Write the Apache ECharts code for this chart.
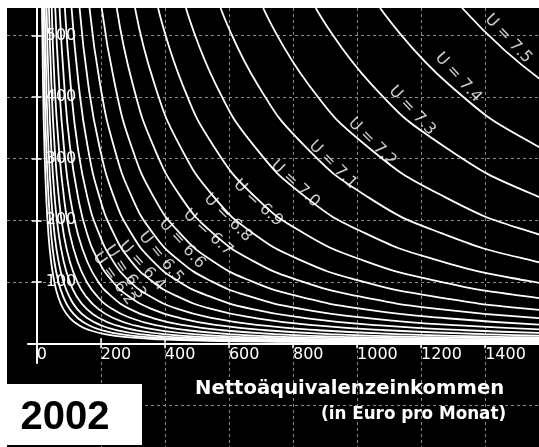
<!DOCTYPE html>
<html>
<head>
<meta charset="utf-8">
<script src="https://cdn.jsdelivr.net/npm/echarts@6/dist/echarts.min.js"></script>
<style>
html, body { margin: 0; padding: 0; background: #fff; }
#chart { position: absolute; left: 7px; top: 8px; width: 532px; height: 439px; background: #000; }
</style>
</head>
<body>
<div id="chart"></div>
<script>
// tick labels
const xTicks = [0, 200, 400, 600, 800, 1000, 1200, 1400];
const yTicks = [100, 200, 300, 400, 500];

// indifference curves: [income, y]
const c75 = [[1328,545],[1461,476],[1594,421]];
const c74 = [[1072,545],[1286,421],[1565,320],[1930,238]];
const c73 = [[871,545],[1045,421],[1272,320],[1568,238],[1916,179]];
const c72 = [[707,545],[848,421],[1032,320],[1273,238],[1555,179],[1909,134]];
const c71 = [[574,545],[689,421],[838,320],[1033,238],[1263,179],[1550,134],[1894,101]];
const c70 = [[466,545],[559,421],[680,320],[839,238],[1025,179],[1258,134],[1538,101],[1864,77]];
const c69 = [[379,545],[455,421],[553,320],[682,238],[834,179],[1023,134],[1251,101],[1516,77],[1895,56]];
const c68 = [[307,545],[368,421],[448,320],[553,238],[675,179],[829,134],[1013,101],[1228,77],[1535,56],[1934,40.7]];
const c67 = [[250,545],[300,421],[365,320],[450,238],[550,179],[675,134],[825,101],[1000,77],[1250,56],[1575,40.7]];
const c66 = [[203,545],[244,421],[296,320],[365,238],[447,179],[548,134],[670,101],[812,77],[1015,56],[1279,40.7],[1624,29]];
const c65 = [[165,545],[198,421],[241,320],[297,238],[363,179],[446,134],[545,101],[660,77],[825,56],[1040,40.7],[1320,29],[1650,21.2]];
const c64 = [[134,545],[161,421],[196,320],[241,238],[295,179],[362,134],[442,101],[536,77],[670,56],[844,40.7],[1072,29],[1340,21.2],[1742,14.6]];
const c63 = [[109,545],[131,421],[159,320],[196,238],[240,179],[294,134],[360,101],[436,77],[545,56],[687,40.7],[872,29],[1090,21.2],[1417,14.6],[1853,10]];
const c62 = [[88,545],[106,421],[128,320],[158,238],[194,179],[238,134],[290,101],[352,77],[440,56],[554,40.7],[704,29],[880,21.2],[1144,14.6],[1496,10],[2024,6.6]];
const c61 = [[71.5,545],[86,421],[104,320],[129,238],[157,179],[193,134],[236,101],[286,77],[358,56],[450,40.7],[572,29],[715,21.2],[930,14.6],[1216,10],[1645,6.6]];
const c60 = [[58,545],[70,421],[85,320],[104,238],[128,179],[157,134],[191,101],[232,77],[290,56],[365,40.7],[464,29],[580,21.2],[754,14.6],[986,10],[1334,6.6],[1856,4.1]];
const c59 = [[47,545],[56,421],[69,320],[85,238],[103,179],[127,134],[155,101],[188,77],[235,56],[296,40.7],[376,29],[470,21.2],[611,14.6],[799,10],[1081,6.6],[1504,4.1],[2115,2.5]];
const c58 = [[38.3,545],[46,421],[56,320],[69,238],[84,179],[103,134],[126,101],[153,77],[192,56],[241,40.7],[306,29],[383,21.2],[498,14.6],[651,10],[881,6.6],[1226,4.1],[1724,2.5]];
const c57 = [[31.1,545],[37.3,421],[45.4,320],[56,238],[68.4,179],[84,134],[102.6,101],[124,77],[156,56],[196,40.7],[249,29],[311,21.2],[404,14.6],[529,10],[715,6.6],[995,4.1],[1400,2.5],[1960,1.6]];
const c56 = [[25.2,545],[30.2,421],[36.8,320],[45.4,238],[55.4,179],[68,134],[83.2,101],[101,77],[126,56],[159,40.7],[202,29],[252,21.2],[328,14.6],[428,10],[580,6.6],[806,4.1],[1134,2.5],[1588,1.6]];
const c55 = [[20.5,545],[24.6,421],[30,320],[37,238],[45,179],[55,134],[67.5,101],[82,77],[102.5,56],[129,40.7],[164,29],[205,21.2],[266,14.6],[348,10],[471,6.6],[656,4.1],[922,2.5],[1291,1.6],[1800,1.0]];
const c54 = [[16.6,545],[19.9,421],[24.2,320],[29.9,238],[36.5,179],[44.8,134],[54.8,101],[66.4,77],[83,56],[104.6,40.7],[132.8,29],[166,21.2],[216,14.6],[282,10],[382,6.6],[531,4.1],[747,2.5],[1046,1.6],[1600,1.0]];

const curves = [c54, c55, c56, c57, c58, c59, c60, c61, c62, c63, c64, c65, c66, c67, c68, c69, c70, c71, c72, c73, c74, c75];

// curve labels
const labelText = ['U = 6.2','U = 6.3','U = 6.4','U = 6.5','U = 6.6','U = 6.7','U = 6.8',
                   'U = 6.9','U = 7.0','U = 7.1','U = 7.2','U = 7.3','U = 7.4','U = 7.5'];
const labelPos = [[241,105],[276,116],[329,126],[388,140],[454,162],[535,180],[597,204],
                  [691,228],[807,259],[925,290],[1047,327],[1172,378],[1316,432],[1472,495]];
const labelRotate = [-54,-56,-48,-51,-48,-42,-45,-43,-43,-45,-45,-47,-48,-47];

const white = '#ffffff';
const gridGray = '#8c8c8c';

const chart = echarts.init(document.getElementById('chart'));

const series = curves.map(function (d) {
    return {
        type: 'line',
        xAxisIndex: 0,
        yAxisIndex: 0,
        data: d,
        smooth: 0.5,
        showSymbol: false,
        clip: true,
        silent: true,
        lineStyle: {color: white, width: 1.8},
        z: 3
    };
});

series.push({
    type: 'scatter',
    xAxisIndex: 0,
    yAxisIndex: 0,
    symbolSize: 0,
    silent: true,
    z: 5,
    data: labelPos.map(function (p, i) {
        return {value: p, name: labelText[i], label: {rotate: labelRotate[i]}};
    }),
    label: {
        show: true,
        position: 'inside',
        formatter: function (p) { return p.name; },
        color: '#fff',
        fontFamily: 'DejaVu Sans',
        fontSize: 16
    }
});

const tickStyle = {color: '#fff', width: 1.5};

const option = {
    animation: false,
    backgroundColor: '#000',
    grid: [
        {left: 21, right: 0, top: 0, bottom: 84},       // curves + axes
        {left: 29.7, right: 0, top: 0, bottom: 0},      // vertical grid lines
        {left: 0, right: 0, top: 0, bottom: 42.2}       // horizontal grid lines
    ],
    xAxis: [
        {
            gridIndex: 0, type: 'value', min: -27, max: 1568, position: 'bottom', offset: -19.7,
            axisLine: {onZero: false, lineStyle: {color: '#fff', width: 2}},
            axisTick: {customValues: xTicks.slice(1), length: 5, lineStyle: tickStyle},
            axisLabel: {
                customValues: xTicks, color: '#fff', fontFamily: 'DejaVu Sans',
                fontSize: 16, align: 'left', margin: 4,
                formatter: function (v) { return String(v); }
            },
            splitLine: {show: false}
        },
        {
            gridIndex: 0, type: 'value', min: -27, max: 1568, position: 'bottom', offset: -19.7,
            axisLine: {show: false, onZero: false},
            axisTick: {customValues: xTicks.slice(1), inside: true, length: 5, lineStyle: tickStyle},
            axisLabel: {show: false},
            splitLine: {show: false}
        },
        {
            gridIndex: 1, type: 'value', min: 0, max: 1568, interval: 200,
            axisLine: {show: false}, axisTick: {show: false}, axisLabel: {show: false},
            splitLine: {
                show: true, showMinLine: false, showMaxLine: false,
                lineStyle: {color: gridGray, width: 1, type: [3, 3]}
            }
        },
        {gridIndex: 2, type: 'value', show: false}
    ],
    yAxis: [
        {
            gridIndex: 0, type: 'value', min: -32, max: 545, position: 'left', offset: -8.7,
            axisLine: {onZero: false, lineStyle: {color: '#fff', width: 2}},
            axisTick: {customValues: yTicks, length: 5, lineStyle: tickStyle},
            axisLabel: {
                customValues: yTicks, inside: true, color: '#fff', fontFamily: 'DejaVu Sans',
                fontSize: 16, margin: 9,
                formatter: function (v) { return String(v); }
            },
            splitLine: {show: false}
        },
        {
            gridIndex: 0, type: 'value', min: -32, max: 545, position: 'left', offset: -8.7,
            axisLine: {show: false, onZero: false},
            axisTick: {customValues: yTicks, inside: true, length: 5, lineStyle: tickStyle},
            axisLabel: {show: false},
            splitLine: {show: false}
        },
        {gridIndex: 1, type: 'value', show: false},
        {
            gridIndex: 2, type: 'value', min: -100, max: 545, interval: 100,
            axisLine: {show: false}, axisTick: {show: false}, axisLabel: {show: false},
            splitLine: {
                show: true, showMaxLine: false,
                lineStyle: {
                    color: [gridGray, 'rgba(0,0,0,0)', gridGray, gridGray, gridGray, gridGray, gridGray],
                    width: 1, type: [3, 3]
                }
            }
        }
    ],
    graphic: [
        {type: 'rect', shape: {x: 0, y: 376, width: 135, height: 61}, style: {fill: '#fff'}, z: 100},
        {
            type: 'text', x: 58, y: 410, z: 101,
            style: {
                text: '2002', font: 'bold 40px "Liberation Sans"', fill: '#000',
                textAlign: 'center', textVerticalAlign: 'middle', align: 'center', verticalAlign: 'middle'
            }
        },
        {
            type: 'text', x: 188, y: 381, z: 101,
            style: {
                text: 'Nettoäquivalenzeinkommen', font: 'bold 19.6px "DejaVu Sans"', fill: '#fff',
                textVerticalAlign: 'middle', verticalAlign: 'middle'
            }
        },
        {
            type: 'text', x: 314, y: 407, z: 101,
            style: {
                text: '(in Euro pro Monat)', font: 'bold 16.8px "DejaVu Sans"', fill: '#fff',
                textVerticalAlign: 'middle', verticalAlign: 'middle'
            }
        }
    ],
    series: series
};

chart.setOption(option);
</script>
</body>
</html>
